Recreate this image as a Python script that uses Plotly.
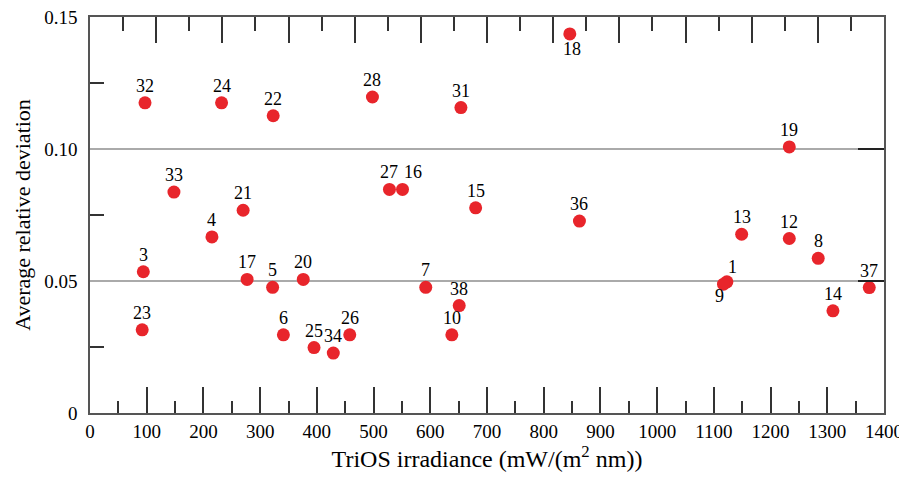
import plotly.graph_objects as go

# Data
labels = ["32", "24", "22", "33", "21", "4", "3", "23", "17", "5", "6", "20",
          "25", "34", "26", "7", "38", "10", "18", "28", "31", "27", "16", "15",
          "36", "19", "13", "12", "8", "1", "9", "14", "37"]
irradiance = [97, 232, 323, 148, 270, 215, 94, 92, 277, 322, 341, 376,
              395, 429, 458, 592, 651, 638, 846, 498, 654, 528, 551, 680,
              863, 1233, 1149, 1233, 1284, 1123, 1117, 1310, 1374]
deviation = [0.1175, 0.1175, 0.1126, 0.0837, 0.0768, 0.0667, 0.0535, 0.0315,
             0.0506, 0.0476, 0.0296, 0.0506, 0.0248, 0.0227, 0.0296, 0.0476,
             0.0407, 0.0296, 0.1436, 0.1197, 0.1157, 0.0847, 0.0847, 0.0777,
             0.0727, 0.1008, 0.0677, 0.0661, 0.0586, 0.0497, 0.0488, 0.0387,
             0.0475]
x_ticks = list(range(0, 1401, 100))
y_ticks = [0, 0.05, 0.10, 0.15]
y_ticktext = ["0", "0.05", "0.10", "0.15"]

# label offsets (pixels), default above the point
label_shift = {"18": (2, -15), "9": (-4, -12), "1": (6, 15), "16": (10, 17)}

FONT = "'Times New Roman', 'Liberation Serif', serif"

fig = go.Figure()
fig.add_trace(go.Scatter(
    x=irradiance, y=deviation, mode="markers",
    marker=dict(size=13, color="#e8252b", line=dict(width=0)),
    showlegend=False, hoverinfo="skip"))

for lab, xv, yv in zip(labels, irradiance, deviation):
    dx, dy = label_shift.get(lab, (0, 17))
    fig.add_annotation(x=xv, y=yv, text=lab, showarrow=False,
                       xshift=dx, yshift=dy,
                       font=dict(family=FONT, size=18, color="black"))

axis_line = "#555555"
fig.update_layout(
    width=899, height=479,
    margin=dict(l=90, r=15, t=17, b=66, autoexpand=False),
    paper_bgcolor="white", plot_bgcolor="white",
    font=dict(family=FONT, size=19, color="black"),
    xaxis=dict(range=[0, 1400], tickvals=x_ticks, automargin=False,
               ticks="inside", ticklen=26, tickwidth=1.5, tickcolor="#333",
               minor=dict(dtick=50, tick0=0, ticks="inside", ticklen=12, tickwidth=1.5, tickcolor="#333"),
               showline=True, linecolor=axis_line, linewidth=1.5, mirror=True,
               showgrid=False, zeroline=False, ticklabeloverflow="allow",
               tickfont=dict(family=FONT, size=19),
               title=dict(text="TriOS irradiance (mW/(m<sup>2</sup> nm))",
                          font=dict(family=FONT, size=24), standoff=6)),
    yaxis=dict(range=[0, 0.15], tickvals=y_ticks, ticktext=y_ticktext, automargin=False,
               ticks="",
               minor=dict(tickvals=[0.025, 0.075, 0.125], ticks="inside", ticklen=14,
                          tickwidth=1.5, tickcolor="#333", showgrid=False),
               showline=True, linecolor=axis_line, linewidth=1.5, mirror=True,
               showgrid=True, gridcolor="#aaaaaa", gridwidth=1.5, zeroline=False,
               tickfont=dict(family=FONT, size=19), ticklabelstandoff=7,
               title=dict(text="Average relative deviation",
                          font=dict(family=FONT, size=22), standoff=8)),
    xaxis2=dict(range=[0, 1200], dtick=100, tick0=0, overlaying="x", side="top",
                anchor="y", ticks="inside", ticklen=26, tickwidth=1.5, tickcolor="#333",
                minor=dict(dtick=50, tick0=0, ticks="inside", ticklen=14, tickwidth=1.5, tickcolor="#333"),
                showticklabels=False, showline=False, automargin=False,
                showgrid=False, zeroline=False),
    yaxis2=dict(range=[0, 0.15], tickvals=[0.05, 0.10], overlaying="y", side="right",
                anchor="x", ticks="inside", ticklen=26, tickwidth=1.5, tickcolor="#222",
                showticklabels=False, showline=False, automargin=False,
                showgrid=False, zeroline=False),
)
fig.add_trace(go.Scatter(x=[None], y=[None], xaxis="x2", yaxis="y2",
                         showlegend=False, hoverinfo="skip"))

fig.write_html("out.html")
